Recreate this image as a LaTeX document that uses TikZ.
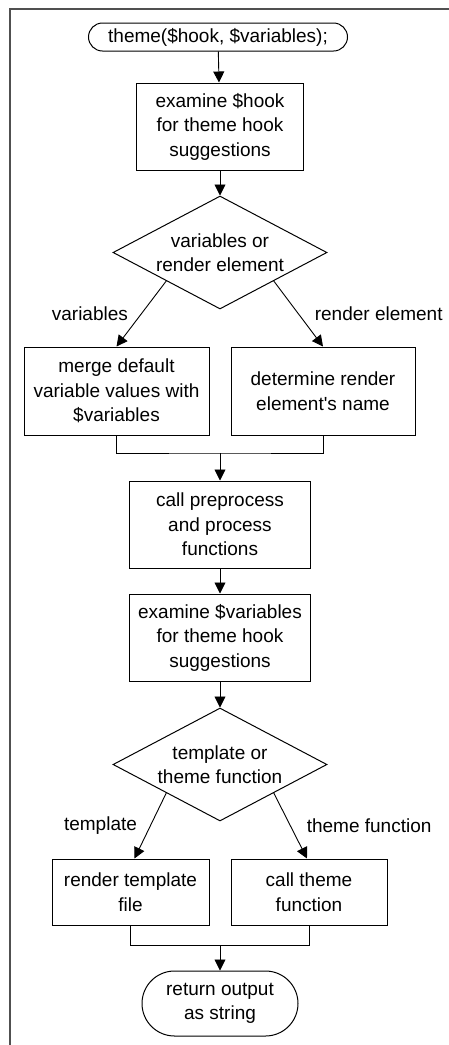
\documentclass[tikz,border=0pt]{standalone}
\usepackage{fontspec}
\setmainfont{Liberation Sans}
\usepackage{tikz}
\usetikzlibrary{shapes.geometric, shapes.misc, arrows.meta}
\definecolor{framegray}{HTML}{505050}

\begin{document}
\begin{tikzpicture}[
        x = 1pt, y = -1pt,
        font = \fontsize{19}{24.5}\selectfont,
        box/.style = {draw, rectangle, align = center, line width = 1pt, inner sep = 0pt},
        term/.style = {draw, rounded rectangle, align = center, line width = 1pt, inner sep = 0pt},
        choice/.style = {draw, diamond, aspect = 2, align = center, line width = 1pt, inner sep = 0pt, minimum width = 214pt, minimum height = 113pt},
        flow/.style = {-{Triangle[length = 11pt, width = 11pt]}, line width = 0.9pt},
        tag/.style = {inner sep = 0pt}
    ]
        \useasboundingbox (0, 0) rectangle (449, 1045);

        \draw[line width = 2pt, color = framegray]
            (9.5, 1045) -- (9.5, 8.5) -- (449, 8.5)
        ;

        \draw
            (218, 37) node[term, minimum width = 259pt, minimum height = 28pt](start){theme(\$hook, \$variables);}
            (220, 126.5) node[box, minimum width = 167pt, minimum height = 87pt](hook){examine \$hook\\for theme hook\\suggestions}
            (220, 252.5) node[choice](kind){variables or\\render element}

            (116.5, 391) node[box, minimum width = 185pt, minimum height = 88pt](merge){merge default\\variable values with\\\$variables}
            (323, 391) node[box, minimum width = 184pt, minimum height = 88pt](name){determine render\\element\textquotesingle s name}

            (220, 524.5) node[box, minimum width = 181pt, minimum height = 87pt](prep){call preprocess\\and process\\functions}
            (220, 637.5) node[box, minimum width = 181pt, minimum height = 87pt](vars){examine \$variables\\for theme hook\\suggestions}
            (220, 764.5) node[choice](output){template or\\theme function}

            (130.5, 892) node[box, minimum width = 157pt, minimum height = 66pt](tpl){render template\\file}
            (309, 892) node[box, minimum width = 156pt, minimum height = 66pt](func){call theme\\function}

            (220, 1003.5) node[term, minimum width = 156pt, minimum height = 65pt](done){return output\\as string}
        ;

        \coordinate (join1) at (220, 453);
        \coordinate (join2) at (220, 945);

        \draw[flow]
            (start) -- (hook)
        ;
        \draw[flow]
            (hook) -- (kind)
        ;
        \draw[flow]
            (kind.south west) --node[tag, left = 13pt](lVar){variables} (merge.north)
        ;
        \draw[flow]
            (kind.south east) --node[tag, right = 16pt](lRen){render element} (name.north)
        ;
        \draw[line width = 0.9pt]
            (merge.south) |- (join1) -| (name.south)
        ;
        \draw[flow]
            (join1) -- (prep.north)
        ;
        \draw[flow]
            (prep) -- (vars)
        ;
        \draw[flow]
            (vars) -- (output)
        ;
        \draw[flow]
            (output.south west) --node[tag, left = 13pt](lTpl){template} ([xshift = 4pt]tpl.north)
        ;
        \draw[flow]
            (output.south east) --node[tag, right = 16pt](lFun){theme function} ([xshift = -2pt]func.north)
        ;
        \draw[line width = 0.9pt]
            (tpl.south) |- (join2) -| (func.south)
        ;
        \draw[flow]
            (join2) -- (done.north)
        ;
    \end{tikzpicture}
\end{document}
